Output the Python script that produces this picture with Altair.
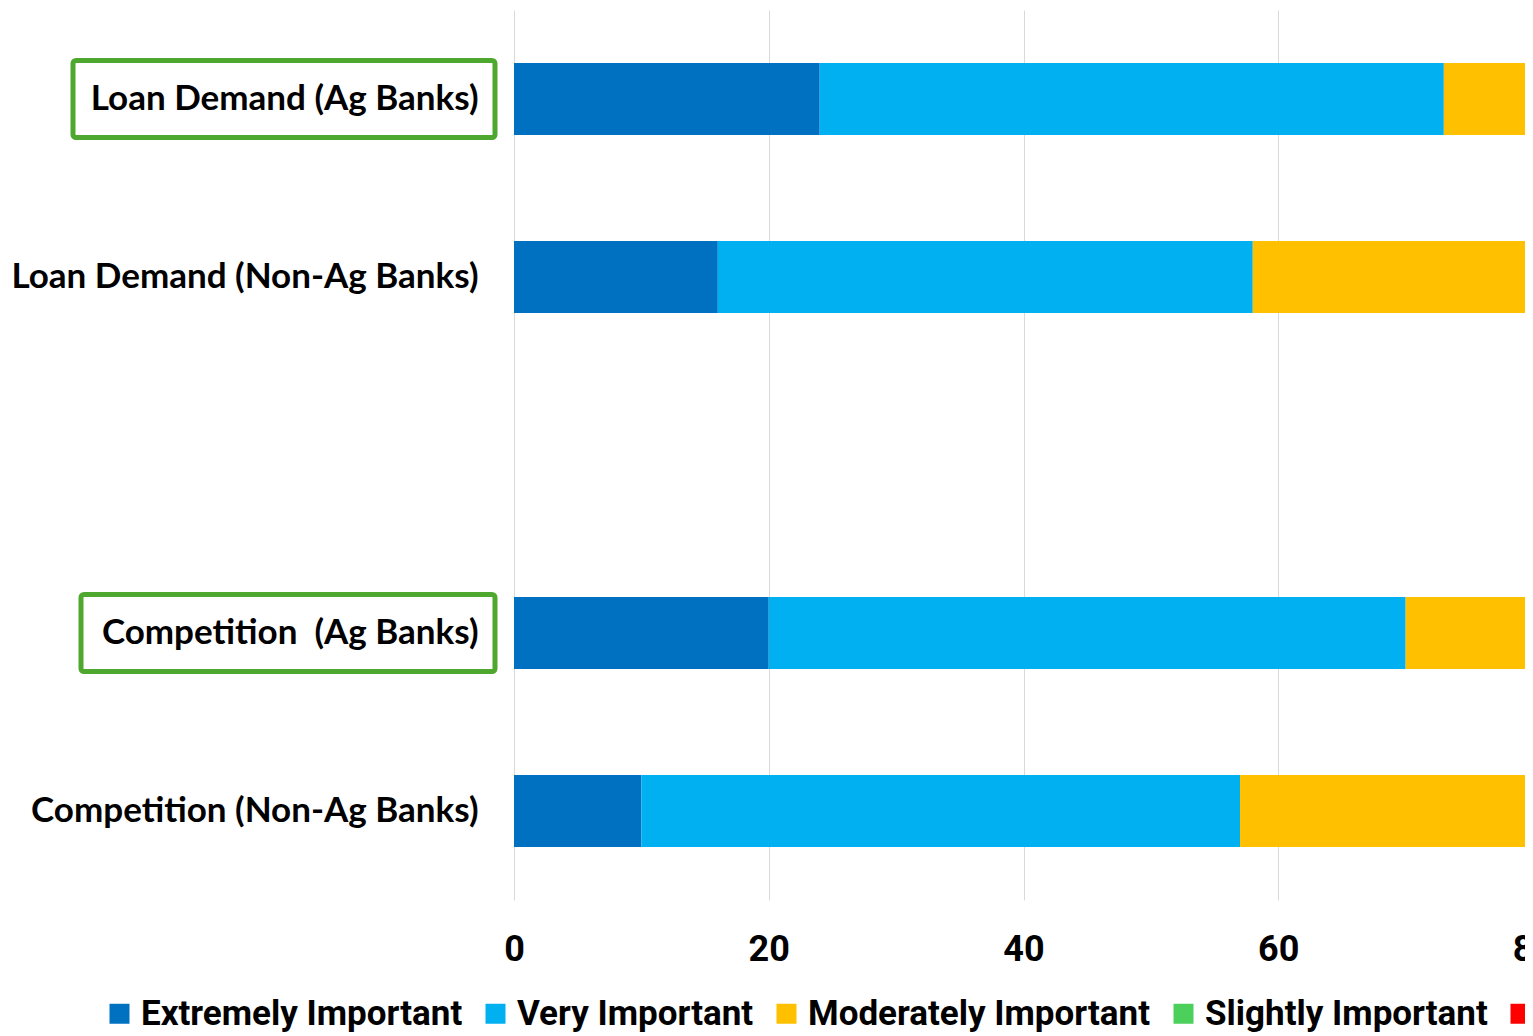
import altair as alt
import pandas as pd

categories = ["Loan Demand (Ag Banks)", "Loan Demand (Non-Ag Banks)",
              "Competition\u00a0 (Ag Banks)", "Competition (Non-Ag Banks)"]
domain_rows = ["Loan Demand (Ag Banks)", "Loan Demand (Non-Ag Banks)", " ",
               "Competition\u00a0 (Ag Banks)", "Competition (Non-Ag Banks)"]
levels = ["Extremely Important", "Very Important", "Moderately Important",
          "Slightly Important", "Not Important"]
colors = ["#0070C0", "#00B0F0", "#FFC000", "#4CD05C", "#FF0000"]

extremely = [24, 16, 20, 10]
very = [49, 42, 50, 47]
moderately = [22, 33, 25, 35]
slightly = [4, 7, 4, 6]
not_important = [1, 2, 1, 2]

series = [extremely, very, moderately, slightly, not_important]
rows = []
for li, (lvl, vals) in enumerate(zip(levels, series)):
    for cat, v in zip(categories, vals):
        rows.append({"category": cat, "level": lvl, "order": li, "value": v})
df = pd.DataFrame(rows)

boxed_1 = pd.DataFrame({"category": ["Loan Demand (Ag Banks)"]})
boxed_2 = pd.DataFrame({"category": ["Competition\u00a0 (Ag Banks)"]})

NARROW = "Roboto"

yscale = alt.Scale(domain=domain_rows, paddingInner=0, paddingOuter=0)

bars = alt.Chart(df).mark_bar(size=72, clip=True).encode(
    x=alt.X("value:Q", stack="zero",
            scale=alt.Scale(domain=[0, 80], nice=False, zero=True),
            axis=alt.Axis(values=[0, 20, 40, 60, 80], title=None, ticks=False,
                          domain=False, grid=True, gridColor="#D9D9D9",
                          labelFont=NARROW, labelFontWeight="bold", labelFlush=False,
                          labelFontSize=36, labelColor="#000000", labelPadding=32)),
    y=alt.Y("category:N", scale=yscale, sort=domain_rows,
            axis=alt.Axis(title=None, ticks=False, domain=False,
                          labelFont="Lato", labelFontWeight="bold", labelFontSize=35,
                          labelColor="#000000", labelPadding=36, labelLimit=600)),
    color=alt.Color("level:N", sort=levels,
                    scale=alt.Scale(domain=levels, range=colors),
                    legend=alt.Legend(title=None, orient="none", direction="horizontal",
                                      legendX=-412, legendY=986, columns=5,
                                      symbolType="square", symbolSize=400,
                                      symbolStrokeWidth=0, symbolOpacity=1,
                                      labelFont=NARROW,
                                      labelFontWeight="bold", labelFontSize=35,
                                      labelColor="#000000", labelOffset=4,
                                      columnPadding=15, labelLimit=600)),
    order=alt.Order("order:Q"),
)

box1 = alt.Chart(boxed_1).mark_bar(size=77, filled=False, stroke="#4EA72E",
                                   strokeWidth=5, cornerRadius=3).encode(
    y=alt.Y("category:N", scale=yscale, sort=domain_rows),
    x=alt.value(-441), x2=alt.value(-19),
)
box2 = alt.Chart(boxed_2).mark_bar(size=77, filled=False, stroke="#4EA72E",
                                   strokeWidth=5, cornerRadius=3).encode(
    y=alt.Y("category:N", scale=yscale, sort=domain_rows),
    x=alt.value(-433), x2=alt.value(-19),
)

chart = alt.layer(bars, box1, box2).properties(
    width=1019, height=890,
    autosize=alt.AutoSizeParams(type="none"),
    padding={"left": 506, "top": 2, "right": -8, "bottom": 136},
).configure(background="#FFFFFF").configure_view(stroke=None)

chart.save("out.html", embed_options={"renderer": "svg", "actions": False})
